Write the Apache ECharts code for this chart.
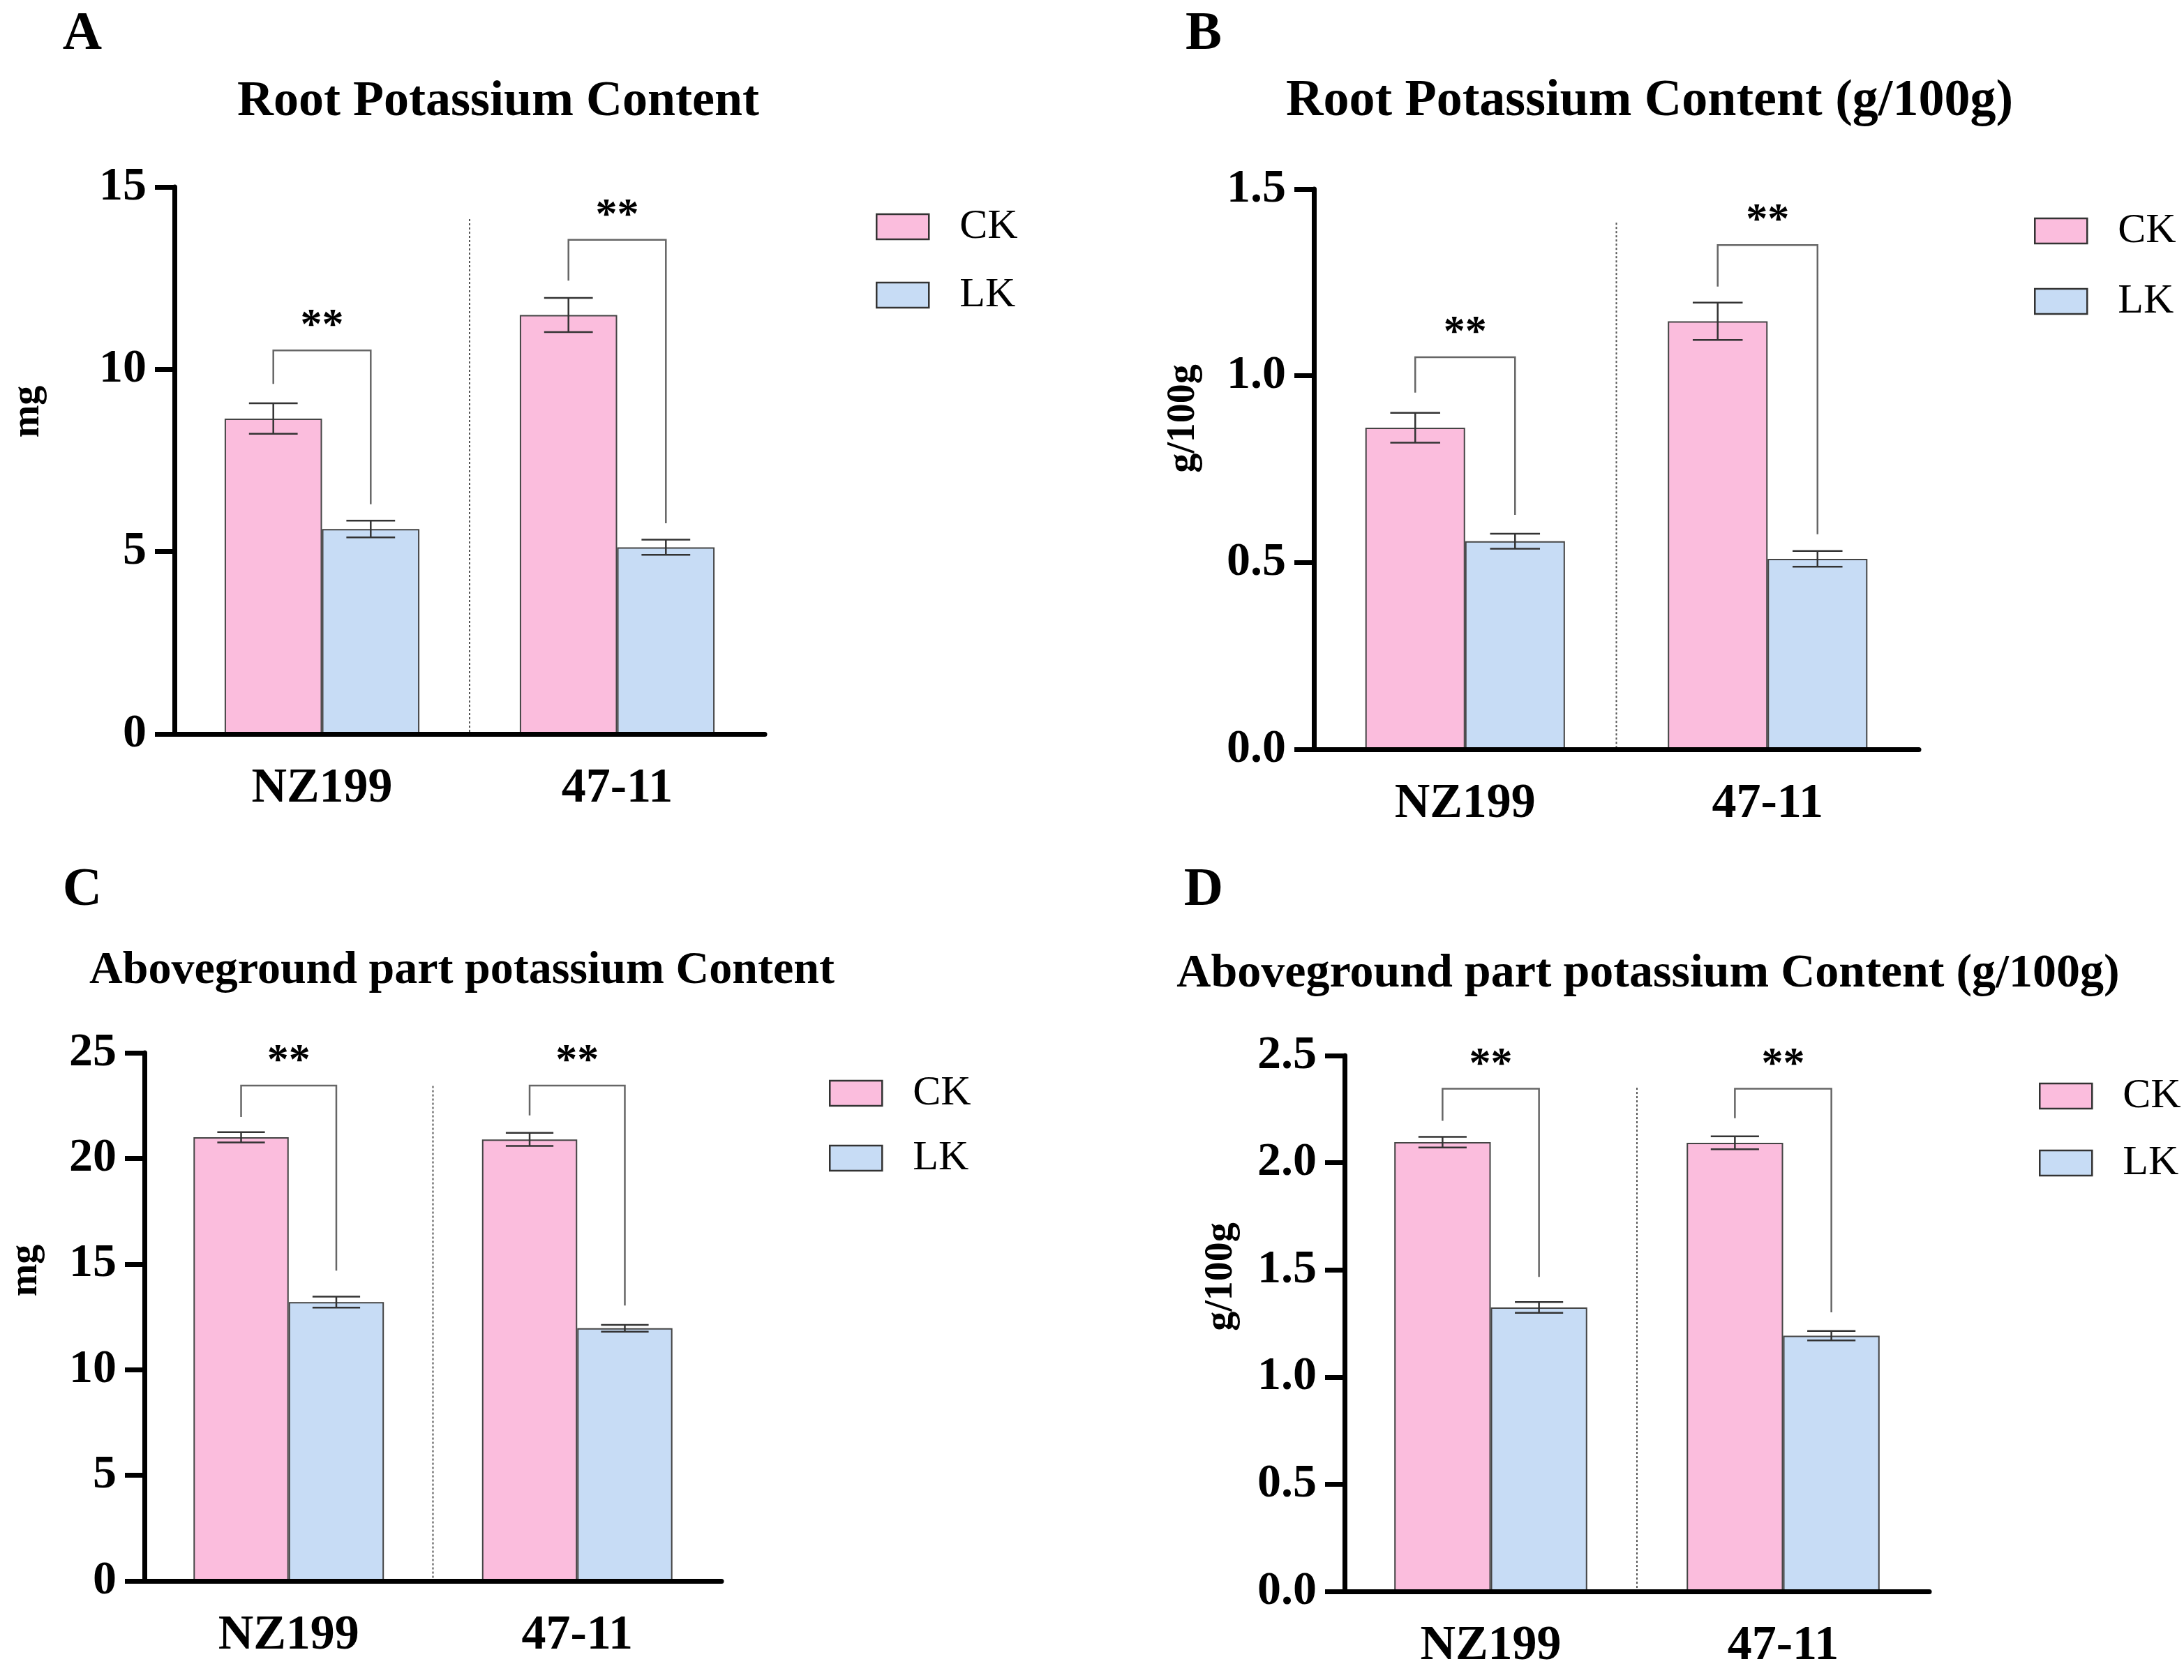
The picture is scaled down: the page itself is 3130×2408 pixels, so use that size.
<!DOCTYPE html>
<html><head><meta charset="utf-8">
<script src="https://cdn.jsdelivr.net/npm/echarts@6/dist/echarts.min.js"></script>
<style>html,body{margin:0;padding:0;background:#fff}#c{width:3130px;height:2408px}</style>
</head><body><div id="c"></div>
<script>
// ---------- data ----------
const categories = ['NZ199', '47-11'];
const seriesNames = ['CK', 'LK'];

// Panel A: Root Potassium Content (mg)
const ckA = [8.65, 11.49];
const ckErrA = [0.42, 0.47];
const lkA = [5.62, 5.12];
const lkErrA = [0.23, 0.21];
const bracketTopA = [10.52, 13.55];
const bracketCkLegA = [9.6, 12.43];
const bracketLkLegA = [6.3, 5.78];
const separatorTopA = 14.12;
const yTicksA = [0, 5, 10, 15];

// Panel B: Root Potassium Content (g/100g)
const ckB = [0.861, 1.146];
const ckErrB = [0.04, 0.05];
const lkB = [0.557, 0.510];
const lkErrB = [0.02, 0.021];
const bracketTopB = [1.05, 1.35];
const bracketCkLegB = [0.955, 1.239];
const bracketLkLegB = [0.6275, 0.576];
const separatorTopB = 1.41;
const yTicksB = [0.0, 0.5, 1.0, 1.5];

// Panel C: Aboveground part potassium Content (mg)
const ckC = [21.0, 20.9];
const ckErrC = [0.24, 0.31];
const lkC = [13.2, 11.96];
const lkErrC = [0.26, 0.16];
const bracketTopC = [23.45, 23.45];
const bracketCkLegC = [21.96, 22.04];
const bracketLkLegC = [14.69, 13.04];
const separatorTopC = 23.43;
const yTicksC = [0, 5, 10, 15, 20, 25];

// Panel D: Aboveground part potassium Content (g/100g)
const ckD = [2.096, 2.093];
const ckErrD = [0.025, 0.03];
const lkD = [1.325, 1.193];
const lkErrD = [0.025, 0.022];
const bracketTopD = [2.345, 2.345];
const bracketCkLegD = [2.196, 2.208];
const bracketLkLegD = [1.467, 1.302];
const separatorTopD = 2.35;
const yTicksD = [0.0, 0.5, 1.0, 1.5, 2.0, 2.5];

const sigLabel = '**';

// ---------- layout / style ----------
const FONT = "'Liberation Serif', 'Times New Roman', serif";
const PINK = '#FBBDDD';
const BLUE = '#C7DCF5';
const CAT_GAP = 0.34;
const BAR_FRAC = (1 - CAT_GAP) / 2;

const panels = [
  {letter:'A', title:'Root Potassium Content', yName:'mg', ck:ckA, ckErr:ckErrA, lk:lkA, lkErr:lkErrA,
   bTop:bracketTopA, bCk:bracketCkLegA, bLk:bracketLkLegA, sepTop:separatorTopA, ticks:yTicksA, dec:0,
   grid:{left:250, top:268, width:846, height:784}, letterPos:[118,50], titlePos:[714,146], titleSize:72,
   yNamePos:[41,590], legend:{left:1255, top:295, gap:38}},
  {letter:'B', title:'Root Potassium Content (g/100g)', yName:'g/100g', ck:ckB, ckErr:ckErrB, lk:lkB, lkErr:lkErrB,
   bTop:bracketTopB, bCk:bracketCkLegB, bLk:bracketLkLegB, sepTop:separatorTopB, ticks:yTicksB, dec:1,
   grid:{left:1883, top:271, width:867, height:803}, letterPos:[1725,50], titlePos:[2364,146], titleSize:74,
   yNamePos:[1697,600], legend:{left:2915, top:301, gap:41}},
  {letter:'C', title:'Aboveground part potassium Content', yName:'mg', ck:ckC, ckErr:ckErrC, lk:lkC, lkErr:lkErrC,
   bTop:bracketTopC, bCk:bracketCkLegC, bLk:bracketLkLegC, sepTop:separatorTopC, ticks:yTicksC, dec:0,
   grid:{left:207, top:1509, width:827, height:757}, letterPos:[118,1277], titlePos:[662,1392], titleSize:66,
   yNamePos:[38,1821], legend:{left:1188, top:1537, gap:33}},
  {letter:'D', title:'Aboveground part potassium Content (g/100g)', yName:'g/100g', ck:ckD, ckErr:ckErrD, lk:lkD, lkErr:lkErrD,
   bTop:bracketTopD, bCk:bracketCkLegD, bLk:bracketLkLegD, sepTop:separatorTopD, ticks:yTicksD, dec:1,
   grid:{left:1927, top:1513, width:838, height:768}, letterPos:[1725,1277], titlePos:[2362,1396], titleSize:68,
   yNamePos:[1751,1830], legend:{left:2922, top:1541, gap:36}}
];

function errRender(side) {
  return function (params, api) {
    const j = api.value(0), v = api.value(1), e = api.value(2);
    const band = api.size([1, 0])[0];
    const bw = band * BAR_FRAC;
    const cx = api.coord([j, v])[0] + side * bw / 2;
    const yt = api.coord([j, v + e])[1];
    const yb = api.coord([j, v - e])[1];
    const hw = bw * 0.25;
    const st = {stroke:'#333', lineWidth:2.5};
    return {type:'group', children:[
      {type:'line', shape:{x1:cx, y1:yt, x2:cx, y2:yb}, style:st},
      {type:'line', shape:{x1:cx-hw, y1:yt, x2:cx+hw, y2:yt}, style:st},
      {type:'line', shape:{x1:cx-hw, y1:yb, x2:cx+hw, y2:yb}, style:st}
    ]};
  };
}

function bracketRender(params, api) {
  const j = api.value(0), top = api.value(1), legCk = api.value(2), legLk = api.value(3);
  const band = api.size([1, 0])[0];
  const bw = band * BAR_FRAC;
  const c = api.coord([j, top]);
  const xC = c[0] - bw / 2, xL = c[0] + bw / 2;
  const yT = c[1];
  const yC = api.coord([j, legCk])[1];
  const yL = api.coord([j, legLk])[1];
  return {type:'group', children:[
    {type:'polyline', shape:{points:[[xC, yC], [xC, yT], [xL, yT], [xL, yL]]},
     style:{stroke:'#666', lineWidth:2.5, fill:null}},
    {type:'text', x:c[0], y:yT - 34,
     style:{text:sigLabel, fill:'#000', fontSize:62, fontWeight:'bold', fontFamily:FONT, align:'center', verticalAlign:'middle'}}
  ]};
}

function sepRender(params, api) {
  const j = api.value(0), top = api.value(1);
  const band = api.size([1, 0])[0];
  const x = api.coord([j, 0])[0] + band / 2;
  const y0 = api.coord([j, 0])[1];
  const y1 = api.coord([j, top])[1];
  return {type:'line', shape:{x1:x, y1:y1, x2:x, y2:y0},
    style:{stroke:'#555', lineWidth:2, lineDash:[3, 3]}};
}

const option = {
  animation:false,
  backgroundColor:'#fff',
  grid:[], xAxis:[], yAxis:[], series:[], legend:[], graphic:[]
};

panels.forEach((p, i) => {
  option.grid.push(Object.assign({containLabel:false}, p.grid));
  option.xAxis.push({
    type:'category', gridIndex:i, data:categories, z:5,
    axisLine:{lineStyle:{color:'#000', width:7}},
    axisTick:{alignWithLabel:true, length:28, lineStyle:{color:'#000', width:7}},
    axisLabel:{fontSize:70, fontWeight:'bold', fontFamily:FONT, color:'#000', margin:44},
    splitLine:{show:false}
  });
  const tmin = p.ticks[0], tmax = p.ticks[p.ticks.length - 1];
  option.yAxis.push({
    type:'value', gridIndex:i, min:tmin, max:tmax, interval:p.ticks[1] - p.ticks[0], z:5,
    axisLine:{show:true, lineStyle:{color:'#000', width:7}},
    axisTick:{show:true, length:28, lineStyle:{color:'#000', width:7}},
    axisLabel:{fontSize:68, fontWeight:'bold', fontFamily:FONT, color:'#000', margin:40,
      formatter:(v) => v.toFixed(p.dec)},
    splitLine:{show:false}
  });
  const bars = [[p.ck, PINK], [p.lk, BLUE]];
  bars.forEach((b, k) => {
    option.series.push({
      type:'bar', name:seriesNames[k], xAxisIndex:i, yAxisIndex:i, data:b[0],
      barGap:'0%', barCategoryGap:(CAT_GAP * 100) + '%', z:2,
      itemStyle:{color:b[1], borderColor:'#444', borderWidth:2}
    });
  });
  option.series.push({
    type:'custom', name:'err-ck', xAxisIndex:i, yAxisIndex:i, z:4, clip:false,
    renderItem:errRender(-1), data:p.ck.map((v, j) => [j, v, p.ckErr[j]])
  });
  option.series.push({
    type:'custom', name:'err-lk', xAxisIndex:i, yAxisIndex:i, z:4, clip:false,
    renderItem:errRender(1), data:p.lk.map((v, j) => [j, v, p.lkErr[j]])
  });
  option.series.push({
    type:'custom', name:'bracket', xAxisIndex:i, yAxisIndex:i, z:4, clip:false,
    renderItem:bracketRender, data:categories.map((c, j) => [j, p.bTop[j], p.bCk[j], p.bLk[j]])
  });
  option.series.push({
    type:'custom', name:'separator', xAxisIndex:i, yAxisIndex:i, z:1, clip:false,
    renderItem:sepRender, data:[[0, p.sepTop]]
  });
  option.legend.push({
    data:seriesNames, orient:'vertical', left:p.legend.left, top:p.legend.top, padding:0,
    itemWidth:75, itemHeight:36, itemGap:p.legend.gap, selectedMode:false, icon:'rect',
    itemStyle:{borderColor:'#333', borderWidth:2.5},
    textStyle:{fontSize:60, fontFamily:FONT, color:'#000', lineHeight:60, padding:[0, 0, 0, 39]}
  });
  option.graphic.push({type:'text', x:p.letterPos[0], y:p.letterPos[1],
    style:{text:p.letter, fontSize:78, fontWeight:'bold', fontFamily:FONT, fill:'#000', align:'center', verticalAlign:'middle'}});
  option.graphic.push({type:'text', x:p.titlePos[0], y:p.titlePos[1],
    style:{text:p.title, fontSize:p.titleSize, fontWeight:'bold', fontFamily:FONT, fill:'#000', align:'center', verticalAlign:'middle'}});
  option.graphic.push({type:'text', x:p.yNamePos[0], y:p.yNamePos[1], rotation:Math.PI / 2,
    style:{text:p.yName, fontSize:56, fontWeight:'bold', fontFamily:FONT, fill:'#000', align:'center', verticalAlign:'middle'}});
});

const chart = echarts.init(document.getElementById('c'), null, {renderer:'canvas'});
chart.setOption(option);
</script></body></html>
